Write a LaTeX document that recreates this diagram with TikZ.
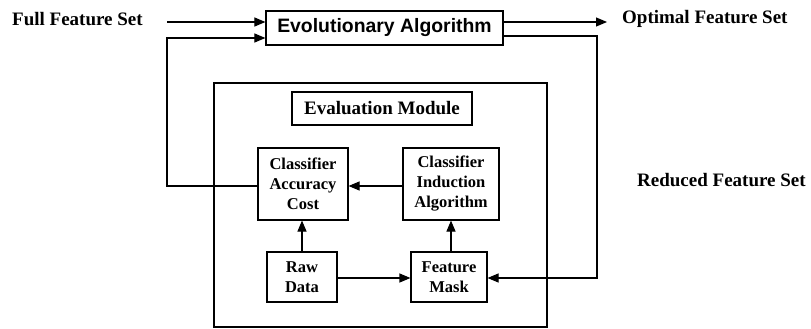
\documentclass[tikz,border=0pt]{standalone}
\usepackage{fontspec}
\setmainfont{Liberation Serif}
\newfontfamily\arialf{Liberation Sans}
\usetikzlibrary{arrows.meta}
\tikzset{
  box/.style={draw, line width=1.1pt, inner sep=0pt, align=center, font=\fontsize{16.5}{20}\selectfont\bfseries},
  lbl/.style={inner sep=0pt, font=\fontsize{19}{22}\selectfont\bfseries},
  conn/.style={line width=1.1pt},
  arr/.style={conn, -{Triangle[length=11pt,width=9pt]}}
}
\begin{document}
\begin{tikzpicture}[x=1pt,y=-1pt]
\useasboundingbox (0,0) rectangle (811,329);
% outer frame of evaluation module
\node[draw, line width=1.1pt, inner sep=0pt, minimum width=333pt, minimum height=244pt] (evalouter) at (380.5,205) {};
% top row
\node[lbl, anchor=west] (full) at (12,19) {Full Feature Set};
\node[draw, line width=1.2pt, inner sep=0pt, minimum width=237pt, minimum height=34pt, font=\arialf\fontsize{19.4}{22}\selectfont\bfseries] (ea) at (384.5,28) {Evolutionary Algorithm};
\node[lbl, anchor=west] (opt) at (622,19) {Optimal Feature Set};
\node[lbl, anchor=west] (red) at (637,180) {Reduced Feature Set};
% inner boxes
\node[box, minimum width=180pt, minimum height=33pt, font=\fontsize{19}{22}\selectfont\bfseries] (evalmod) at (382,108.5) {Evaluation Module};
\node[box, minimum width=90pt, minimum height=72pt] (cac) at (303,184) {Classifier\\Accuracy\\Cost};
\node[box, minimum width=96pt, minimum height=72pt] (cia) at (451,184) {Classifier\\Induction\\Algorithm};
\node[box, minimum width=70pt, minimum height=50pt] (raw) at (302,277) {Raw\\Data};
\node[box, minimum width=76pt, minimum height=50pt] (fm) at (449,277) {Feature\\Mask};
% free ends
\coordinate (fsstart) at (167,22);
\coordinate (optend) at (607,22);
\coordinate (lcorner) at (167,186);
\coordinate (rcorner) at (597,278);
% connectors
\draw[arr] (fsstart) -- (fsstart -| ea.west);
\draw[arr] (cac.west |- lcorner) -- (lcorner) -- (lcorner |- 0,38) -- (ea.west |- 0,38);
\draw[arr] (ea.east |- optend) -- (optend);
\draw[arr] (ea.east |- 0,36) -- (rcorner |- 0,36) -- (rcorner) -- (fm.east |- rcorner);
\draw[arr] (cia.west |- 0,186) -- (cac.east |- 0,186);
\draw[arr] (raw.north -| 302,0) -- (cac.south -| 302,0);
\draw[arr] (fm.north -| 451,0) -- (cia.south -| 451,0);
\draw[arr] (raw.east |- 0,278) -- (fm.west |- 0,278);
\end{tikzpicture}
\end{document}
